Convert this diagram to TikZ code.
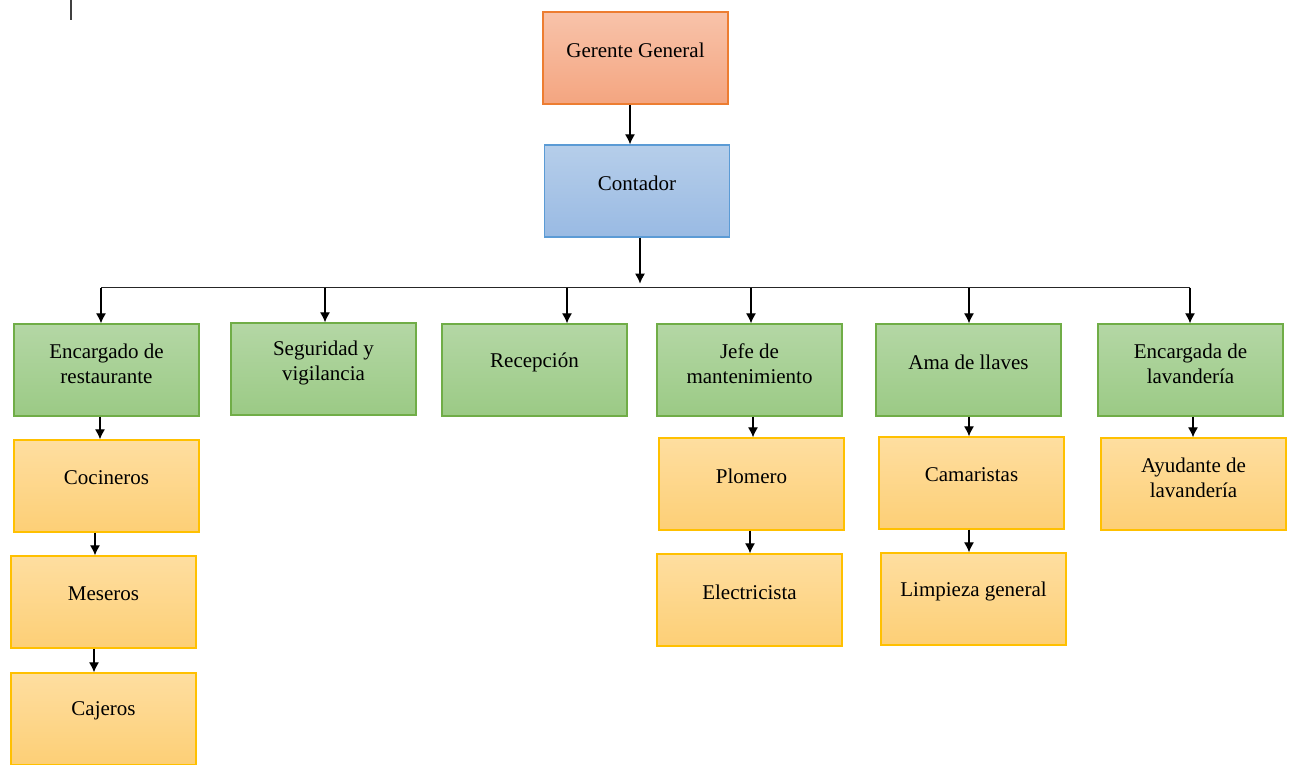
\documentclass[tikz,border=0pt]{standalone}
\usepackage{fontspec}
\setmainfont{Liberation Serif}
\usetikzlibrary{arrows.meta}
\definecolor{narA}{RGB}{248,195,170}
\definecolor{narB}{RGB}{244,165,128}
\definecolor{narL}{RGB}{237,125,49}
\definecolor{azuA}{RGB}{182,206,234}
\definecolor{azuB}{RGB}{153,186,227}
\definecolor{azuL}{RGB}{91,155,213}
\definecolor{verA}{RGB}{180,215,165}
\definecolor{verB}{RGB}{155,202,133}
\definecolor{verL}{RGB}{112,173,71}
\definecolor{amaA}{RGB}{254,222,160}
\definecolor{amaB}{RGB}{253,207,118}
\definecolor{amaL}{RGB}{255,192,0}
\tikzset{>={Latex[length=10pt,width=10pt]}}

\begin{document}
\begin{tikzpicture}[x=1pt, y=-1pt,
  caja/.style={draw, line width=1.3pt, minimum width=185pt, minimum height=92pt, inner sep=0pt},
  gerente/.style={caja, draw=narL, top color=narA, bottom color=narB},
  contador/.style={caja, draw=azuL, top color=azuA, bottom color=azuB},
  jefe/.style={caja, draw=verL, top color=verA, bottom color=verB},
  personal/.style={caja, draw=amaL, top color=amaA, bottom color=amaB},
  texto/.style={font=\fontsize{21}{25}\selectfont, align=center, inner sep=0pt},
  t1/.style={label={[texto, yshift=8pt]center:#1}},
  t2/.style={label={[texto, yshift=6pt]center:#1}},
  flecha/.style={->, line width=1.2pt},
  linea/.style={line width=1.4pt, black!85}]
\useasboundingbox (0,0) rectangle (1290,764);
\draw[line width=1.2pt, black!75] (71,0) -- (71,20);

% niveles superiores
\node[gerente, t1=Gerente General] (gg) at (635.5,58) {};
\node[contador, t1=Contador] (cont) at (637,191) {};

% jefes de area
\node[jefe, t2={Encargado de\\restaurante}] (g1) at (106.5,370) {};
\node[jefe, t2={Seguridad y\\vigilancia}] (g2) at (323.5,369) {};
\node[jefe, t1=Recepción] (g3) at (534.5,370) {};
\node[jefe, t2={Jefe de\\mantenimiento}] (g4) at (749.5,370) {};
\node[jefe, t1=Ama de llaves] (g5) at (968.5,370) {};
\node[jefe, t2={Encargada de\\lavandería}] (g6) at (1190.5,370) {};

% personal
\node[personal, t1=Cocineros] (coc) at (106.5,486) {};
\node[personal, t1=Meseros] (mes) at (103.5,602) {};
\node[personal, t1=Cajeros] (caj) at (103.5,719) {};
\node[personal, t1=Plomero] (plo) at (751.5,484) {};
\node[personal, t1=Electricista] (ele) at (749.5,600) {};
\node[personal, t1=Camaristas] (cam) at (971.5,483) {};
\node[personal, t1=Limpieza general] (lim) at (973.5,599) {};
\node[personal, t2={Ayudante de\\lavandería}] (ayu) at (1193.5,484) {};

\coordinate (bus) at ([yshift=-50pt]cont.south);

\draw[flecha] ([xshift=-5.5pt]gg.south) -- ([xshift=-5.5pt]gg.south |- cont.north);
\draw[flecha] ([xshift=3pt]cont.south) -- ([xshift=3pt,yshift=4pt]cont.south |- bus);
\draw[linea] ([xshift=-5.5pt]g1.north |- bus) -- ([xshift=-0.5pt]g6.north |- bus);
\foreach \n/\dx in {g1/-5.5, g2/1.5, g3/32.5, g4/1.5, g5/0.5, g6/-0.5}
  \draw[flecha] ([xshift=\dx pt]\n.north |- bus) -- ([xshift=\dx pt]\n.north);
\foreach \a/\b/\dx in {g1/coc/-6.5, coc/mes/-11.5, mes/caj/-9.5, g4/plo/3.5, plo/ele/-1.5, g5/cam/0.5, cam/lim/-2.5, g6/ayu/2.5}
  \draw[flecha] ([xshift=\dx pt]\a.south) -- ([xshift=\dx pt]\a.south |- \b.north);
\end{tikzpicture}
\end{document}
